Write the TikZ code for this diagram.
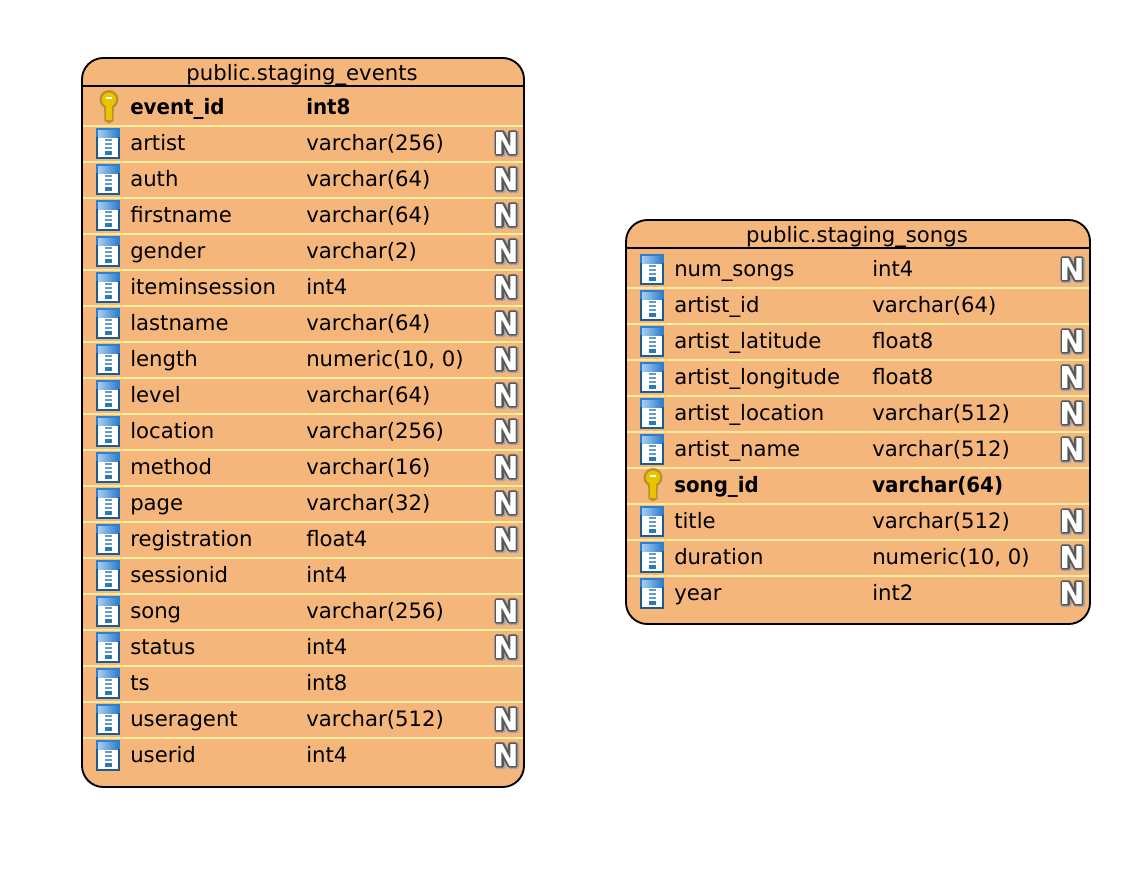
\documentclass[tikz,border=0pt]{standalone}
\usepackage{fontspec}
\setmainfont{DejaVu Sans}
\newfontfamily\keyfont[FakeStretch=0.935]{DejaVu Sans Bold}
\newfontfamily\nfont{DejaVu Sans Bold}
\definecolor{tablefill}{HTML}{F4B67B}
\definecolor{rowline}{HTML}{FFEE9C}
\definecolor{iconblue}{HTML}{1B5C96}
\definecolor{icontop}{HTML}{2F7FD0}
\definecolor{icontopl}{HTML}{A9CDEE}
\definecolor{stripe}{HTML}{2F78B4}
\definecolor{keygold}{HTML}{EBC400}
\definecolor{keydark}{HTML}{B8922A}
\tikzset{
  x=0.75pt,y=-0.75pt,
  tablebox/.style={draw=black,line width=1.4pt,fill=tablefill,rounded corners=16pt},
  headrule/.style={draw=black,line width=1.1pt},
  rowrule/.style={draw=rowline,line width=1.8pt},
  cell/.style={anchor=base west,inner sep=0pt,font=\fontsize{15.9}{18}\selectfont,text=black},
  titlecell/.style={anchor=base,inner sep=0pt,font=\fontsize{15.9}{18}\selectfont,text=black},
  keycell/.style={cell,font=\fontsize{15.9}{18}\keyfont\selectfont},
  nullmark/.style={anchor=base,inner sep=0pt,text=white,font=\fontsize{22.6}{24}\nfont\selectfont},
  colicon/.pic={
    \fill[iconblue] (-12,-15.5) rectangle (12,15.5);
    \fill[icontop] (-12,-15.5) rectangle (12,-6.5);
    \fill[white] (-10,-6.5) rectangle (10,13.5);
    \shade[left color=icontopl,right color=icontop] (-10,-13.5) rectangle (10,-6.5);
    \fill[stripe!75] (-3.5,-4.5) rectangle (3.5,-3);
    \fill[stripe!75] (-3.5,-1) rectangle (3.5,1);
    \fill[stripe!75] (-3.5,3) rectangle (3.5,5);
    \fill[stripe] (-3.5,7) rectangle (3.5,11);
  },
  keyicon/.pic={
    \fill[keydark] (-5,-4) -- (5,-4) -- (4.5,15) -- (0,17.5) -- (-4.5,15) -- cycle;
    \fill[keydark] (0,-6.5) circle (9.5);
    \fill[keygold] (0,-6.5) circle (7);
    \fill[keygold] (-3,-4) rectangle (3,13.5);
    \fill[white] (-3,-9.5) rectangle (3,-7);
  },
  nullshape/.pic={
    \def\nullpath{(-9.8,11) -- (-9.8,-11) -- (-3.2,-11) -- (3.6,1.5) -- (3.6,-11) -- (9.8,-11) -- (9.8,11) -- (3.2,11) -- (-3.6,-1.5) -- (-3.6,11) -- cycle}
    \draw[gray!70,line width=3.6pt,line join=round,shift={(0.8,0.8)}] \nullpath;
    \draw[black!65,line width=2.4pt,line join=round,fill=white] \nullpath;
  },
}
\newcommand{\tablerow}[5]{%
  \pic at (#1+26,#2+1.5) {colicon};
  \node[cell] at (#1+48,#2+8.3) {#3};
  \node[cell] at (#1+\typeoff,#2+8.3) {#4};
  \ifx#5n
    \pic at (#1+\nulloff,#2+1) {nullshape};
    \node[nullmark] at (#1+\nulloff,#2+12) {N};
  \fi
}
\newcommand{\keyrow}[4]{%
  \pic at (#1+27,#2) {keyicon};
  \node[keycell] at (#1+48,#2+8.3) {#3};
  \node[keycell] at (#1+\typeoff,#2+8.3) {#4};
}
\begin{document}
\begin{tikzpicture}
\useasboundingbox (0,0) rectangle (1138,892);
% left table
\path[tablebox] (82,58) rectangle (524,787);
\draw[headrule] (82,86) -- (524,86);
\foreach \k in {0,...,17} \draw[rowrule] (83,126+36*\k) -- (523,126+36*\k);
\node[titlecell] (eventstitle) at (302,80) {public.staging\_events};
\def\typeoff{224}\def\nulloff{424}
\keyrow{82}{106}{event\_id}{int8}
\tablerow{82}{142}{artist}{varchar(256)}{n}
\tablerow{82}{178}{auth}{varchar(64)}{n}
\tablerow{82}{214}{firstname}{varchar(64)}{n}
\tablerow{82}{250}{gender}{varchar(2)}{n}
\tablerow{82}{286}{iteminsession}{int4}{n}
\tablerow{82}{322}{lastname}{varchar(64)}{n}
\tablerow{82}{358}{length}{numeric(10, 0)}{n}
\tablerow{82}{394}{level}{varchar(64)}{n}
\tablerow{82}{430}{location}{varchar(256)}{n}
\tablerow{82}{466}{method}{varchar(16)}{n}
\tablerow{82}{502}{page}{varchar(32)}{n}
\tablerow{82}{538}{registration}{float4}{n}
\tablerow{82}{574}{sessionid}{int4}{x}
\tablerow{82}{610}{song}{varchar(256)}{n}
\tablerow{82}{646}{status}{int4}{n}
\tablerow{82}{682}{ts}{int8}{x}
\tablerow{82}{718}{useragent}{varchar(512)}{n}
\tablerow{82}{754}{userid}{int4}{n}
% right table
\path[tablebox] (626,220) rectangle (1090,624);
\draw[headrule] (626,248) -- (1090,248);
\foreach \k in {0,...,8} \draw[rowrule] (627,288+36*\k) -- (1089,288+36*\k);
\node[titlecell] (songstitle) at (857,242) {public.staging\_songs};
\def\typeoff{246}\def\nulloff{446}
\tablerow{626}{268}{num\_songs}{int4}{n}
\tablerow{626}{304}{artist\_id}{varchar(64)}{x}
\tablerow{626}{340}{artist\_latitude}{float8}{n}
\tablerow{626}{376}{artist\_longitude}{float8}{n}
\tablerow{626}{412}{artist\_location}{varchar(512)}{n}
\tablerow{626}{448}{artist\_name}{varchar(512)}{n}
\keyrow{626}{484}{song\_id}{varchar(64)}
\tablerow{626}{520}{title}{varchar(512)}{n}
\tablerow{626}{556}{duration}{numeric(10, 0)}{n}
\tablerow{626}{592}{year}{int2}{n}
\end{tikzpicture}
\end{document}
